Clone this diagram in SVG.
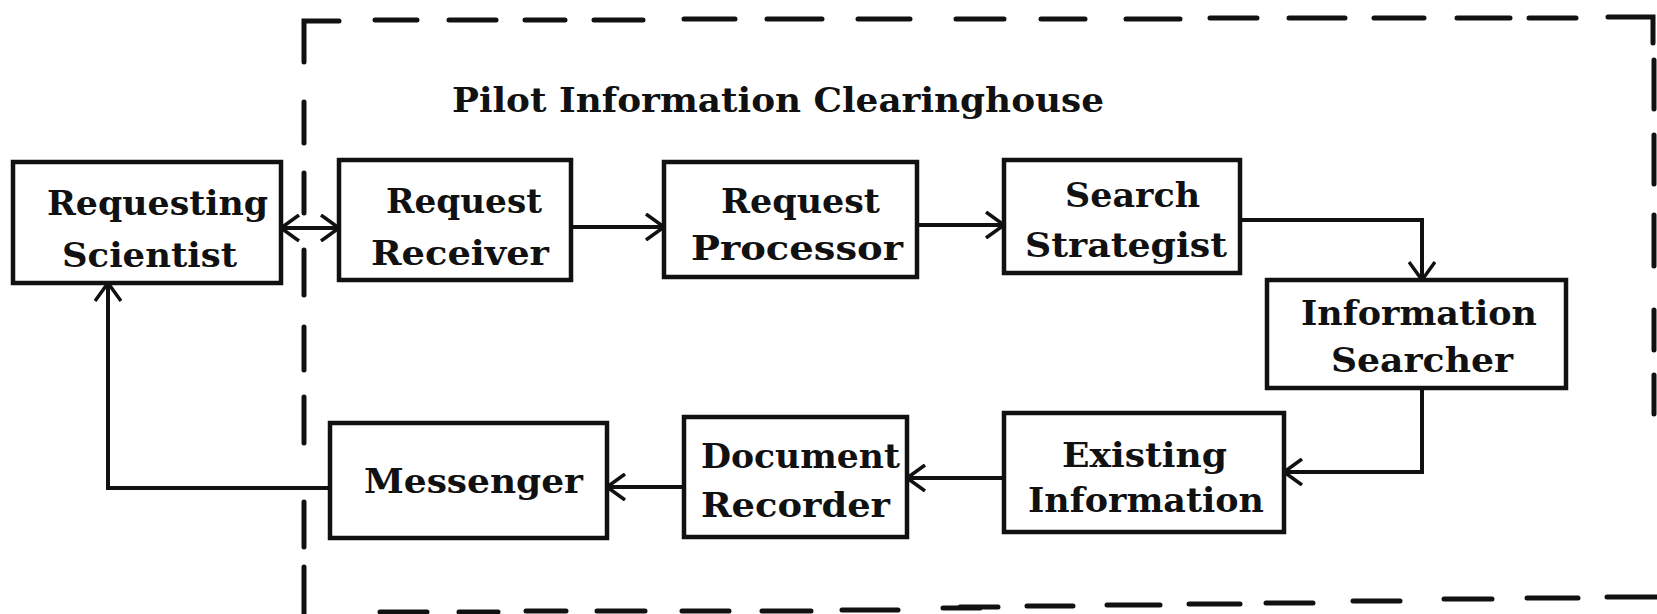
<svg xmlns="http://www.w3.org/2000/svg" width="1657" height="614" viewBox="0 0 1657 614">
<style>
.box{fill:#fff;stroke:#111;stroke-width:4.5}
.lbl{font-family:"DejaVu Serif","Liberation Serif",serif;font-weight:bold;font-size:33px;fill:#111}
.con{fill:none;stroke:#111;stroke-width:4}
.bound{fill:none;stroke:#111;stroke-width:5;stroke-linecap:round}
</style>
<defs>
<marker id="arr" viewBox="0 0 22 28" refX="20" refY="14" markerWidth="22" markerHeight="28" markerUnits="userSpaceOnUse" orient="auto-start-reverse">
<path d="M2,1 L20,14 L2,27" fill="none" stroke="#111" stroke-width="3.5"/>
</marker>
</defs>
<rect width="1657" height="614" fill="#fff"/>
<g id="boundary">
<path class="bound" d="M304,62 V21 H339 M375,20 H417 M449,20 H496 M525,20 H565 M594,20 H643 M684,19 H735 M767,19 H822 M858,19 H910 M956,19 H1004 M1041,19 H1085 M1126,19 H1180 M1210,18 H1257 M1289,18 H1345 M1374,18 H1424 M1457,18 H1510 M1529,18 H1576 M1608,17 H1653 V43"/>
<path class="bound" d="M304,102 V143 M304,173 V213 M304,250 V295 M304,327 V370 M304,397 V443 M304,502 V547 M304,567 V614"/>
<path class="bound" d="M1654,60 V109 M1654,135 V184 M1654,215 V266 M1654,310 V350 M1654,375 V414"/>
<path class="bound" d="M380,612 H427 M459,612 H498 M526,611 H566 M597,611 H645 M682,611 H729 M762,611 H811 M842,610 H898 M943,608 H980 M960,607 H998 M1027,606 H1073 M1107,605 H1160 M1189,604 H1240 M1266,603 H1313 M1353,601 H1400 M1444,599 H1492 M1527,598 H1578 M1607,597 H1657"/>
</g>
<text id="title" class="lbl" x="452" y="112" textLength="652" lengthAdjust="spacingAndGlyphs">Pilot Information Clearinghouse</text>
<g id="connectors">
<path class="con" d="M281,228 H339" marker-start="url(#arr)" marker-end="url(#arr)"/>
<path class="con" d="M571,227 H664" marker-end="url(#arr)"/>
<path class="con" d="M917,225 H1004" marker-end="url(#arr)"/>
<path class="con" d="M1240,220 H1422 V280" marker-end="url(#arr)"/>
<path class="con" d="M1422,388 V472 H1284" marker-end="url(#arr)"/>
<path class="con" d="M1004,478 H907" marker-end="url(#arr)"/>
<path class="con" d="M684,487 H607" marker-end="url(#arr)"/>
<path class="con" d="M330,488 H108 V283" marker-end="url(#arr)"/>
</g>
<g id="requesting-scientist">
<rect class="box" x="13" y="162" width="268" height="121"/>
<text class="lbl" x="47" y="215" textLength="221" lengthAdjust="spacingAndGlyphs">Requesting</text>
<text class="lbl" x="62" y="267" textLength="175" lengthAdjust="spacingAndGlyphs">Scientist</text>
</g>
<g id="request-receiver">
<rect class="box" x="339" y="160" width="232" height="120"/>
<text class="lbl" x="386" y="213" textLength="156" lengthAdjust="spacingAndGlyphs">Request</text>
<text class="lbl" x="371" y="265" textLength="178" lengthAdjust="spacingAndGlyphs">Receiver</text>
</g>
<g id="request-processor">
<rect class="box" x="664" y="162" width="253" height="115"/>
<text class="lbl" x="721" y="213" textLength="159" lengthAdjust="spacingAndGlyphs">Request</text>
<text class="lbl" x="691" y="260" textLength="212" lengthAdjust="spacingAndGlyphs">Processor</text>
</g>
<g id="search-strategist">
<rect class="box" x="1004" y="160" width="236" height="113"/>
<text class="lbl" x="1065" y="207" textLength="135" lengthAdjust="spacingAndGlyphs">Search</text>
<text class="lbl" x="1025" y="257" textLength="202" lengthAdjust="spacingAndGlyphs">Strategist</text>
</g>
<g id="information-searcher">
<rect class="box" x="1267" y="280" width="299" height="108"/>
<text class="lbl" x="1301" y="325" textLength="236" lengthAdjust="spacingAndGlyphs">Information</text>
<text class="lbl" x="1331" y="372" textLength="182" lengthAdjust="spacingAndGlyphs">Searcher</text>
</g>
<g id="existing-information">
<rect class="box" x="1004" y="413" width="280" height="119"/>
<text class="lbl" x="1062" y="467" textLength="165" lengthAdjust="spacingAndGlyphs">Existing</text>
<text class="lbl" x="1028" y="512" textLength="236" lengthAdjust="spacingAndGlyphs">Information</text>
</g>
<g id="document-recorder">
<rect class="box" x="684" y="417" width="223" height="120"/>
<text class="lbl" x="701" y="468" textLength="199" lengthAdjust="spacingAndGlyphs">Document</text>
<text class="lbl" x="701" y="517" textLength="189" lengthAdjust="spacingAndGlyphs">Recorder</text>
</g>
<g id="messenger">
<rect class="box" x="330" y="423" width="277" height="115"/>
<text class="lbl" x="364" y="493" textLength="219" lengthAdjust="spacingAndGlyphs">Messenger</text>
</g>
</svg>
